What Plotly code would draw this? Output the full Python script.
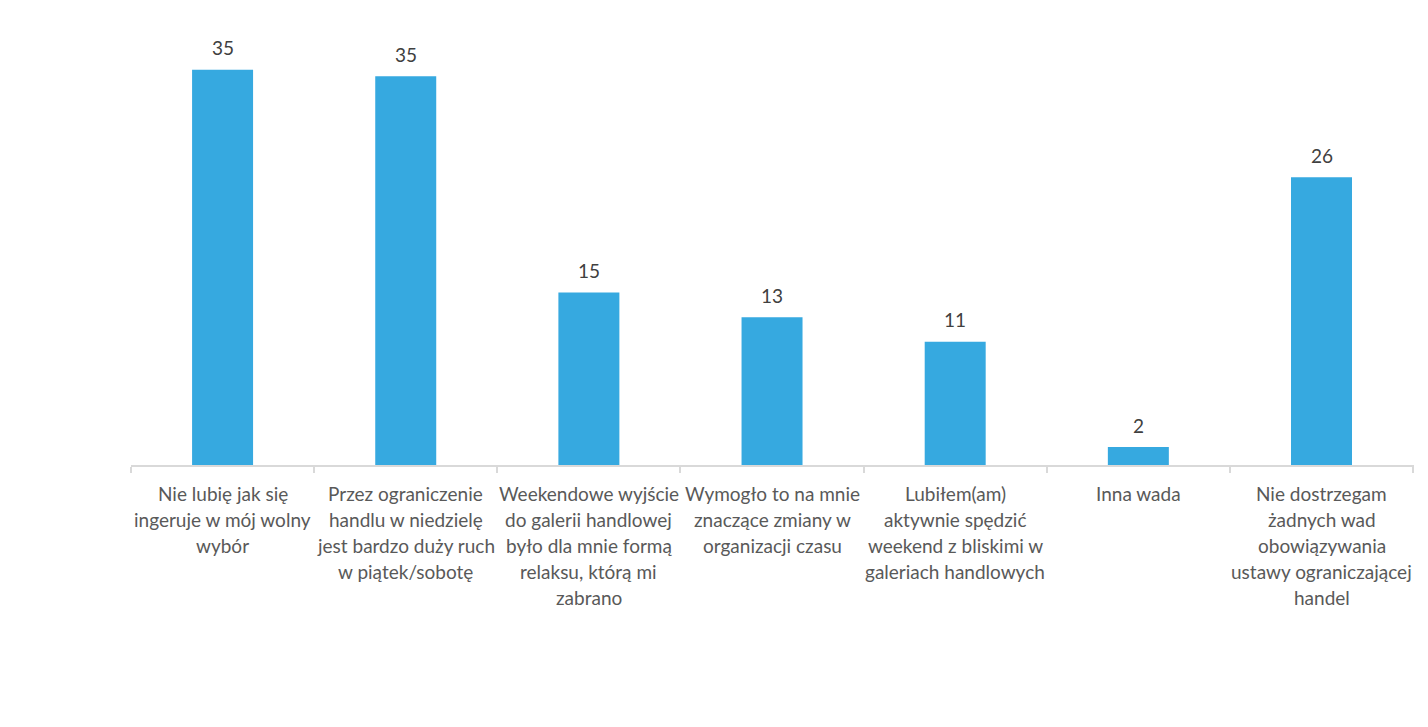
import plotly.graph_objects as go

categories = [
    "Nie lubię jak się<br>ingeruje w mój wolny<br>wybór",
    "Przez ograniczenie<br>handlu w niedzielę<br>jest bardzo duży ruch<br>w piątek/sobotę",
    "Weekendowe wyjście<br>do galerii handlowej<br>było dla mnie formą<br>relaksu, którą mi<br>zabrano",
    "Wymogło to na mnie<br>znaczące zmiany w<br>organizacji czasu",
    "Lubiłem(am)<br>aktywnie spędzić<br>weekend z bliskimi w<br>galeriach handlowych",
    "Inna wada",
    "Nie dostrzegam<br>żadnych wad<br>obowiązywania<br>ustawy ograniczającej<br>handel",
]
values = [35.3, 34.7, 15.4, 13.2, 11.0, 1.6, 25.7]
value_labels = ["35", "35", "15", "13", "11", "2", "26"]

BAR_COLOR = "#36A9E0"
AXIS_COLOR = "#D9D9D9"
LABEL_COLOR = "#595959"
VALUE_COLOR = "#404040"
FONT = "Lato"

fig = go.Figure(
    go.Bar(
        x=categories,
        y=values,
        marker=dict(color=BAR_COLOR, line=dict(width=0)),
        hoverinfo="skip",
    )
)

annotations = []
for cat, val, lab in zip(categories, values, value_labels):
    annotations.append(dict(
        x=cat, y=val, xref="x", yref="y", text=lab, showarrow=False,
        yanchor="middle", yshift=22,
        font=dict(family=FONT, size=19, color=VALUE_COLOR),
    ))
    for k, line in enumerate(cat.split("<br>")):
        annotations.append(dict(
            x=cat, y=0, xref="x", yref="y", text=line, showarrow=False,
            yanchor="middle", yshift=-(28 + 26 * k),
            font=dict(family=FONT, size=19, color=LABEL_COLOR),
        ))

fig.update_layout(
    width=1428, height=727,
    margin=dict(l=131, r=14, t=17, b=262),
    paper_bgcolor="white", plot_bgcolor="white",
    bargap=0.667,
    showlegend=False,
    annotations=annotations,
    xaxis=dict(
        showline=True, linecolor=AXIS_COLOR, linewidth=2,
        ticks="outside", tickson="boundaries", ticklen=6,
        tickcolor=AXIS_COLOR, tickwidth=2,
        showticklabels=False, showgrid=False, fixedrange=True,
    ),
    yaxis=dict(
        range=[0, 40], visible=False, showgrid=False,
        zeroline=False, fixedrange=True,
    ),
)

fig.write_html("out.html")
